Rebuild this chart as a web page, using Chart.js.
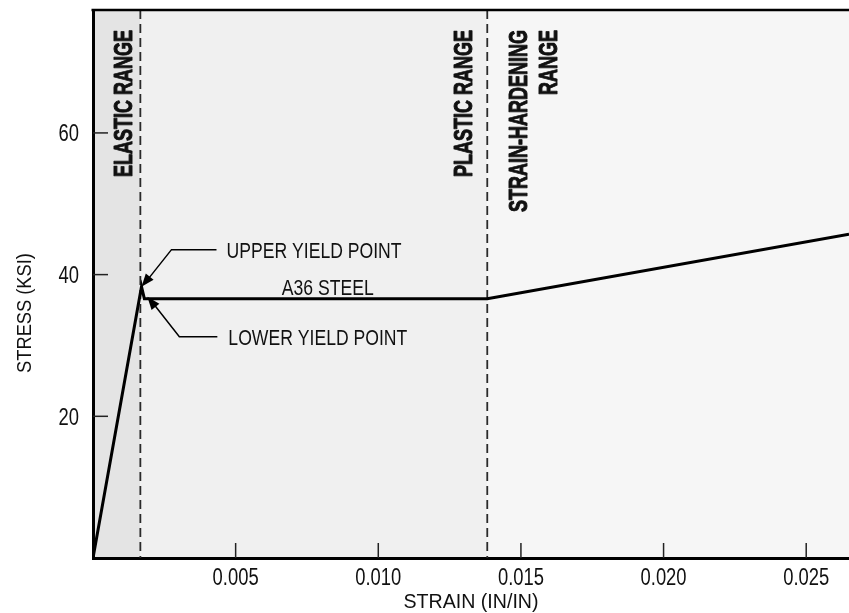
<!DOCTYPE html>
<html>
<head>
<meta charset="utf-8">
<script src="https://cdn.jsdelivr.net/npm/chart.js@4.4.0/dist/chart.umd.min.js"></script>
<style>
  body { margin: 0; background: #fff; }
</style>
</head>
<body>
<canvas id="stressStrain" width="849" height="613"></canvas>
<script>
// Stress-strain curve for A36 steel (strain in/in, stress ksi)
const strain = [0, 0.00170, 0.00180, 0.01382, 0.0265];
const stress = [0, 38.3, 36.6, 36.6, 45.7];

// Range boundaries (strain) and their labels
const rangeLimits = [0, 0.00166, 0.01382, 0.0265];
const rangeLabels = [["ELASTIC RANGE"], ["PLASTIC RANGE"], ["STRAIN-HARDENING", "RANGE"]];

// Tick labels
const xTicks = [0.005, 0.010, 0.015, 0.020, 0.025];
const yTicks = [20, 40, 60];

const FONT = "'Liberation Sans', Arial, sans-serif";
const INK = "#111";
const NARROW = 0.8; // horizontal squeeze to mimic a condensed face

// Draws text squeezed horizontally around its anchor
function narrowText(ctx, txt, x, y, align, squeeze = NARROW) {
    ctx.save();
    ctx.translate(x, y);
    ctx.scale(squeeze, 1);
    ctx.textAlign = align;
    ctx.fillText(txt, 0, 0);
    ctx.restore();
}

// Draws an arrow head pointing from (fx, fy) to (tx, ty)
function arrowHead(ctx, fx, fy, tx, ty) {
    const a = Math.atan2(ty - fy, tx - fx);
    const len = 13, half = 5;
    ctx.beginPath();
    ctx.moveTo(tx, ty);
    ctx.lineTo(tx - len * Math.cos(a) + half * Math.sin(a), ty - len * Math.sin(a) - half * Math.cos(a));
    ctx.lineTo(tx - len * Math.cos(a) - half * Math.sin(a), ty - len * Math.sin(a) + half * Math.cos(a));
    ctx.closePath();
    ctx.fill();
}

const decorations = {
    id: "decorations",
    beforeDraw(chart) {
        const { ctx, chartArea: a, scales: { x } } = chart;
        const fills = ["#e4e4e4", "#f0f0f0", "#f6f6f6"];
        ctx.save();
        for (let i = 0; i < fills.length; i++) {
            const x0 = x.getPixelForValue(rangeLimits[i]);
            const x1 = x.getPixelForValue(rangeLimits[i + 1]);
            ctx.fillStyle = fills[i];
            ctx.fillRect(x0, a.top, x1 - x0, a.bottom - a.top);
        }
        ctx.restore();
    },
    beforeDatasetsDraw(chart) {
        const { ctx, chartArea: a, scales: { x, y } } = chart;
        ctx.save();

        // dashed range boundaries
        ctx.strokeStyle = "#2a2a2a";
        ctx.lineWidth = 1.8;
        ctx.setLineDash([9, 5]);
        [1, 2].forEach((i) => {
            const px = x.getPixelForValue(rangeLimits[i]);
            ctx.beginPath();
            ctx.moveTo(px, a.top);
            ctx.lineTo(px, a.bottom);
            ctx.stroke();
        });
        ctx.setLineDash([]);

        // inward tick marks
        ctx.strokeStyle = "#222";
        ctx.lineWidth = 1.5;
        x.ticks.forEach((t) => {
            const px = x.getPixelForValue(t.value);
            ctx.beginPath();
            ctx.moveTo(px, a.bottom);
            ctx.lineTo(px, a.bottom - 15);
            ctx.stroke();
        });
        y.ticks.forEach((t) => {
            const py = y.getPixelForValue(t.value);
            ctx.beginPath();
            ctx.moveTo(a.left, py);
            ctx.lineTo(a.left + 15, py);
            ctx.stroke();
        });

        // tick labels (condensed look)
        ctx.fillStyle = INK;
        ctx.font = "23px " + FONT;
        ctx.textBaseline = "alphabetic";
        x.ticks.forEach((t) => {
            narrowText(ctx, t.value.toFixed(3), x.getPixelForValue(t.value), a.bottom + 27, "center");
        });
        y.ticks.forEach((t) => {
            narrowText(ctx, String(t.value), a.left - 14, y.getPixelForValue(t.value) + 8.5, "right");
        });

        // top frame line
        ctx.strokeStyle = "#000";
        ctx.lineWidth = 2.5;
        ctx.beginPath();
        ctx.moveTo(a.left - 1.5, a.top);
        ctx.lineTo(a.right, a.top);
        ctx.stroke();

        // vertical range labels, heavy condensed
        ctx.fillStyle = INK;
        ctx.strokeStyle = INK;
        ctx.lineWidth = 1;
        ctx.lineJoin = "round";
        ctx.font = "bold 26px " + FONT;
        const k = 147 / ctx.measureText(rangeLabels[0][0]).width;
        const b1 = x.getPixelForValue(rangeLimits[1]);
        const b2 = x.getPixelForValue(rangeLimits[2]);
        const spots = [[b1 - 8.5], [b2 - 15.5], [b2 + 39.5, b2 + 69.5]];
        rangeLabels.forEach((lines, i) => {
            lines.forEach((txt, j) => {
                ctx.save();
                ctx.translate(spots[i][j], a.top + 20);
                ctx.rotate(-Math.PI / 2);
                ctx.scale(k, 1);
                ctx.textAlign = "right";
                ctx.textBaseline = "alphabetic";
                ctx.fillText(txt, 0, 0);
                ctx.strokeText(txt, 0, 0);
                ctx.restore();
            });
        });

        ctx.restore();
    },
    afterDatasetsDraw(chart) {
        const { ctx, scales: { x, y } } = chart;
        ctx.save();
        ctx.strokeStyle = "#000";
        ctx.fillStyle = "#000";
        ctx.lineWidth = 1.5;

        // upper yield point
        const ux = x.getPixelForValue(strain[1]);
        const uy = y.getPixelForValue(stress[1]);
        const uk = [ux + 30, uy - 37];
        ctx.beginPath();
        ctx.moveTo(ux + 75, uk[1]);
        ctx.lineTo(uk[0], uk[1]);
        ctx.lineTo(ux + 3, uy - 3);
        ctx.stroke();
        arrowHead(ctx, uk[0], uk[1], ux, uy);

        // lower yield point
        const lx = x.getPixelForValue(strain[2]);
        const ly = y.getPixelForValue(stress[2]);
        const lk = [lx + 35, ly + 38];
        ctx.beginPath();
        ctx.moveTo(lx + 73, lk[1]);
        ctx.lineTo(lk[0], lk[1]);
        ctx.lineTo(lx + 6, ly + 1);
        ctx.stroke();
        arrowHead(ctx, lk[0], lk[1], lx + 3, ly - 2);

        ctx.fillStyle = INK;
        ctx.font = "22px " + FONT;
        ctx.textBaseline = "alphabetic";
        narrowText(ctx, "UPPER YIELD POINT", ux + 85, uk[1] + 8, "left");
        narrowText(ctx, "LOWER YIELD POINT", lx + 84, lk[1] + 8, "left");

        // material label above the plateau
        narrowText(ctx, "A36 STEEL", x.getPixelForValue(0.00823), ly - 4, "center");
        ctx.restore();
    },
    afterDraw(chart) {
        const { ctx, chartArea: a } = chart;
        ctx.save();
        ctx.fillStyle = INK;

        // y axis title
        ctx.font = "21px " + FONT;
        ctx.save();
        ctx.translate(25, 313);
        ctx.rotate(-Math.PI / 2);
        ctx.textBaseline = "middle";
        narrowText(ctx, "STRESS (KSI)", 0, 0, "center", 0.87);
        ctx.restore();

        // x axis title
        ctx.font = "20px " + FONT;
        ctx.textBaseline = "alphabetic";
        narrowText(ctx, "STRAIN (IN/IN)", (a.left + a.right) / 2, 608, "center", 0.98);
        ctx.restore();
    }
};

new Chart(document.getElementById("stressStrain"), {
    type: "line",
    data: {
        datasets: [{
            data: strain.map((s, i) => ({ x: s, y: stress[i] })),
            borderColor: "#000",
            borderWidth: 3,
            pointRadius: 0,
            tension: 0,
            fill: false,
        }],
    },
    options: {
        responsive: false,
        animation: false,
        layout: { padding: { top: 10, right: 0, bottom: 0, left: 0 } },
        plugins: {
            legend: { display: false },
            tooltip: { enabled: false },
        },
        scales: {
            x: {
                type: "linear",
                min: 0,
                max: 0.0265,
                afterBuildTicks: (s) => { s.ticks = xTicks.map((v) => ({ value: v })); },
                afterFit: (s) => { s.height = 55; s.paddingLeft = 0; s.paddingRight = 0; },
                ticks: { display: false },
                grid: { display: false, drawTicks: false },
                border: { display: true, color: "#000", width: 3 },
            },
            y: {
                type: "linear",
                min: 0,
                max: 77.35,
                afterBuildTicks: (s) => { s.ticks = yTicks.map((v) => ({ value: v })); },
                afterFit: (s) => { s.width = 93; s.paddingTop = 0; s.paddingBottom = 0; },
                ticks: { display: false },
                grid: { display: false, drawTicks: false },
                border: { display: true, color: "#000", width: 3 },
            },
        },
    },
    plugins: [decorations],
});
</script>
</body>
</html>
